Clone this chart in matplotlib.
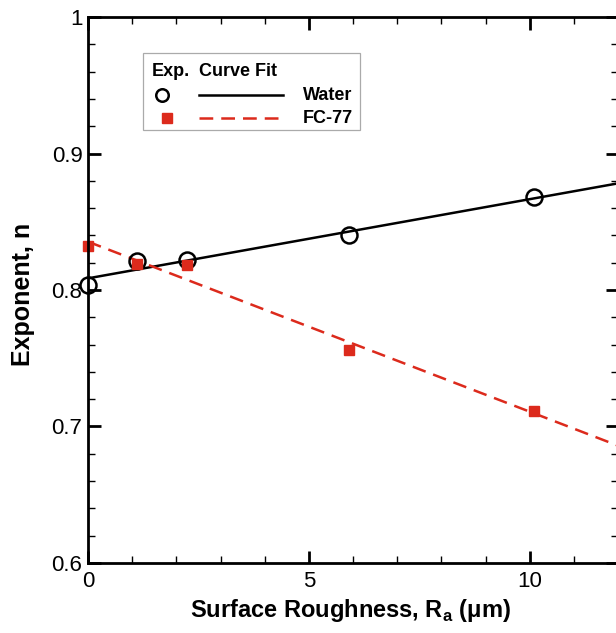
import matplotlib
matplotlib.use('Agg')
import matplotlib.pyplot as plt
from matplotlib.patches import Rectangle
from matplotlib.lines import Line2D
from matplotlib.ticker import MultipleLocator
import numpy as np

plt.rcParams['font.family'] = 'Liberation Sans'
plt.rcParams['mathtext.fontset'] = 'custom'
plt.rcParams['mathtext.rm'] = 'Liberation Sans'
plt.rcParams['mathtext.bf'] = 'Liberation Sans:bold'

# datos
ra_water = [0.0, 1.1, 2.25, 5.9, 10.1]
n_water = [0.804, 0.821, 0.822, 0.840, 0.868]
ra_fc77 = [0.0, 1.1, 2.25, 5.9, 10.1]
n_fc77 = [0.832, 0.819, 0.818, 0.756, 0.711]

red = '#dc2a1c'

fig = plt.figure(figsize=(6.16, 6.33), dpi=100)
ax = fig.add_axes([0.1429, 0.1106, 0.8604, 0.8625])

# ajustes lineales
xfit = np.array([0, 12])
pw = np.polyfit(ra_water, n_water, 1)
pf = np.polyfit(ra_fc77, n_fc77, 1)
ax.plot(xfit, np.polyval(pw, xfit), color='black', lw=1.8)
ax.plot(xfit, np.polyval(pf, xfit), color=red, lw=1.8, dashes=(5.5, 3.2))

ax.plot(ra_water, n_water, 'o', mfc='none', mec='black', ms=11.5, mew=1.8, clip_on=False)
ax.plot(ra_fc77, n_fc77, 's', color=red, ms=7, clip_on=False)

ax.set_xlim(0, 12)
ax.set_ylim(0.6, 1.0)
ax.xaxis.set_major_locator(MultipleLocator(5))
ax.xaxis.set_minor_locator(MultipleLocator(1))
ax.yaxis.set_minor_locator(MultipleLocator(0.02))
ax.set_yticks([0.6, 0.7, 0.8, 0.9, 1.0])
ax.set_yticklabels(['0.6', '0.7', '0.8', '0.9', '1'])
ax.tick_params(which='both', direction='in', top=True, right=True, labelsize=16)
ax.tick_params(axis='x', pad=6)
ax.tick_params(axis='y', pad=4)
ax.tick_params(which='major', length=9, width=2)
ax.tick_params(which='minor', length=5, width=1)
for s in ax.spines.values():
    s.set_linewidth(2)

ax.set_xlabel(r'Surface Roughness, R$_\mathbf{a}$ (μm)', fontsize=17, fontweight='bold')
ax.set_ylabel('Exponent, n', fontsize=18, fontweight='bold')
ax.xaxis.label.set_va('baseline')
ax.yaxis.label.set_va('center')
ax.xaxis.set_label_coords(0.496, -0.099)
ax.yaxis.set_label_coords(-0.1226, 0.4927)

# leyenda hecha a mano
ax.add_patch(Rectangle((0.104, 0.793), 0.409, 0.141, transform=ax.transAxes,
                       fill=True, facecolor='white', edgecolor='#aaaaaa', lw=0.9, zorder=5))
ax.text(0.121, 0.901, 'Exp.', transform=ax.transAxes, fontsize=13, fontweight='bold', va='center', zorder=6)
ax.text(0.209, 0.901, 'Curve Fit', transform=ax.transAxes, fontsize=13, fontweight='bold', va='center', zorder=6)
ax.add_line(Line2D([0.140], [0.857], transform=ax.transAxes, marker='o', mfc='none', mec='black',
                   ms=9, mew=1.8, zorder=6))
ax.add_line(Line2D([0.209, 0.368], [0.857, 0.857], transform=ax.transAxes, color='black', lw=1.8, zorder=6))
ax.text(0.406, 0.857, 'Water', transform=ax.transAxes, fontsize=13, fontweight='bold', va='center', zorder=6)
ax.add_line(Line2D([0.149], [0.815], transform=ax.transAxes, marker='s', color=red, ms=7.5, zorder=6))
ax.add_line(Line2D([0.209, 0.368], [0.815, 0.815], transform=ax.transAxes, color=red, lw=1.8,
                   dashes=(5.5, 3.2), zorder=6))
ax.text(0.406, 0.815, 'FC-77', transform=ax.transAxes, fontsize=13, fontweight='bold', va='center', zorder=6)

fig.savefig('out.png', dpi=100)
